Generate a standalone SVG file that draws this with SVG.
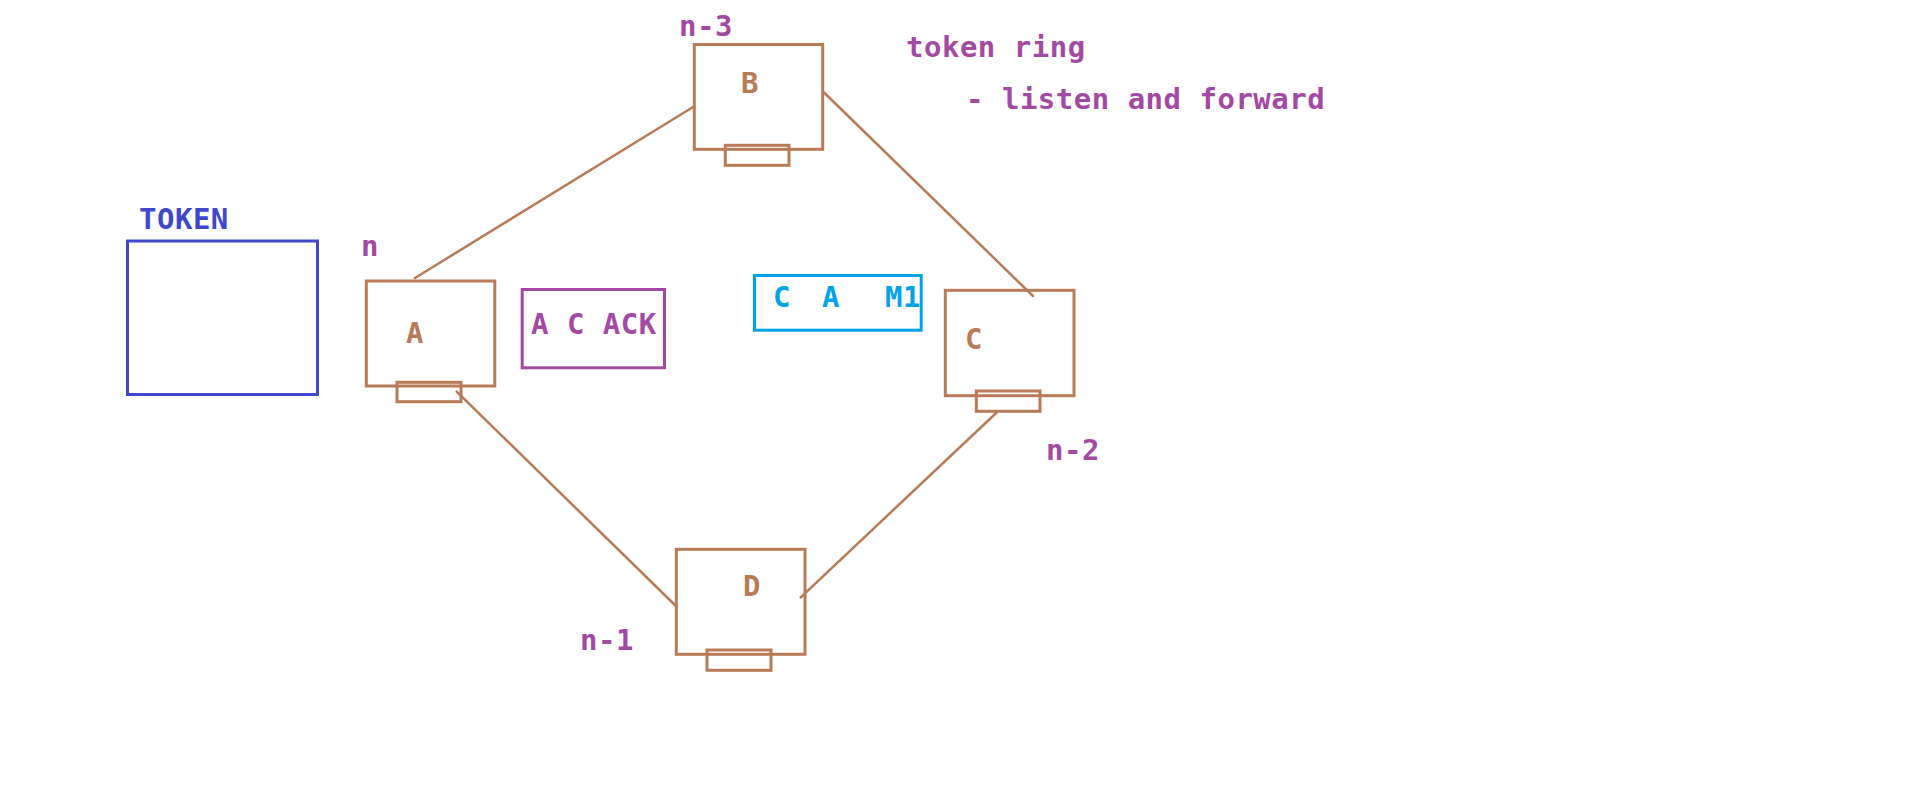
<svg xmlns="http://www.w3.org/2000/svg" width="1914" height="806" viewBox="0 0 1914 806">
<style>
.bg{fill:#ffffff}
.node{fill:none;stroke:#B97A57;stroke-width:3}
.port{fill:none;stroke:#B97A57;stroke-width:3}
.edge{fill:none;stroke:#B97A57;stroke-width:2.5;stroke-linecap:round}
.t{font-family:"DejaVu Sans Mono","Liberation Mono",monospace;font-weight:bold;font-size:29px;letter-spacing:0.5px}
.brown{fill:#B97A57}
.purple{fill:#A349A4}
.indigo{fill:#3F48CC}
.cyan{fill:#00A2E8}
</style>
<rect class="bg" x="0" y="0" width="1914" height="806"/>
<g id="connectors">
<line class="edge" x1="415" y1="278" x2="693.5" y2="106.7"/>
<line class="edge" x1="824" y1="92.5" x2="1033" y2="296"/>
<line class="edge" x1="996.7" y1="412.5" x2="800.7" y2="597.3"/>
<line class="edge" x1="677" y1="607" x2="456.7" y2="391.7"/>
</g>
<g id="token">
<rect x="127.5" y="241" width="190" height="153.5" fill="none" stroke="#3F48CC" stroke-width="3"/>
<text class="t indigo" x="139" y="229">TOKEN</text>
</g>
<g id="nodeA">
<rect class="node" x="366.3" y="281" width="128.5" height="105"/>
<rect class="port" x="397" y="382.3" width="64" height="19.4"/>
<text class="t brown" x="406" y="343">A</text>
<text class="t purple" x="361" y="256">n</text>
</g>
<g id="nodeB">
<rect class="node" x="694.3" y="44.5" width="128.4" height="104.8"/>
<rect class="port" x="725.3" y="145.3" width="63.7" height="20"/>
<text class="t brown" x="741" y="93">B</text>
<text class="t purple" x="679" y="36">n-3</text>
</g>
<g id="nodeC">
<rect class="node" x="945.3" y="290.3" width="128.7" height="105.4"/>
<rect class="port" x="976.3" y="391" width="63.7" height="20.3"/>
<text class="t brown" x="965" y="349">C</text>
<text class="t purple" x="1046" y="460">n-2</text>
</g>
<g id="nodeD">
<rect class="node" x="676.3" y="549.3" width="128.7" height="105"/>
<rect class="port" x="707" y="650" width="64" height="20.3"/>
<text class="t brown" x="743" y="596">D</text>
<text class="t purple" x="580" y="650">n-1</text>
</g>
<g id="ackFrame">
<rect x="522.2" y="289.5" width="142.3" height="78.3" fill="none" stroke="#A349A4" stroke-width="3"/>
<text class="t purple" x="531" y="334" xml:space="preserve">A C ACK</text>
</g>
<g id="msgFrame">
<rect x="754.5" y="275.5" width="166.7" height="54.7" fill="none" stroke="#00A2E8" stroke-width="3"/>
<text class="t cyan" x="773" y="307">C</text>
<text class="t cyan" x="822" y="307">A</text>
<text class="t cyan" x="885" y="307">M1</text>
</g>
<g id="title">
<text class="t purple" x="906" y="57">token ring</text>
<text class="t purple" x="966" y="109">- listen and forward</text>
</g>
</svg>
